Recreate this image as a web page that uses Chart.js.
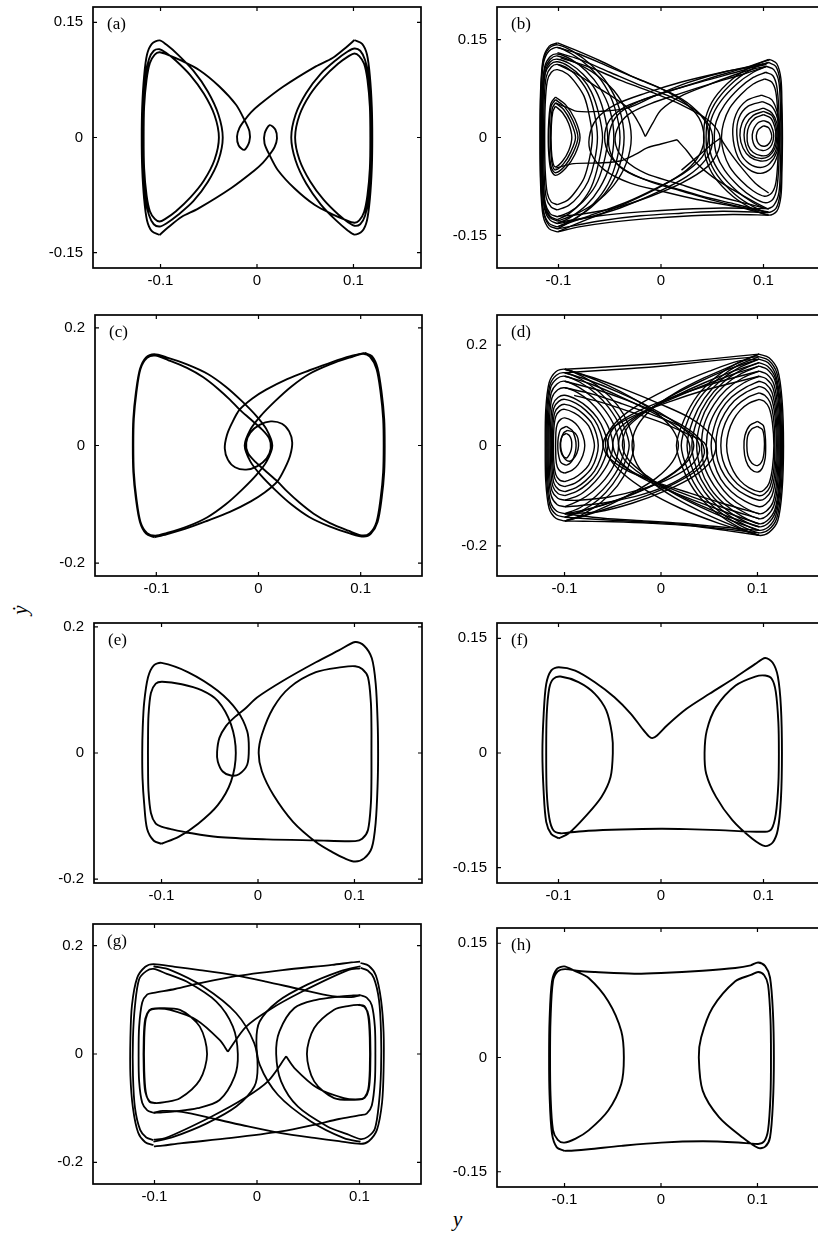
<!DOCTYPE html>
<html>
<head>
<meta charset="utf-8">
<script src="https://cdn.jsdelivr.net/npm/chart.js@4.4.1/dist/chart.umd.min.js"></script>
<style>
  html, body { margin: 0; padding: 0; background: #fff; width: 818px; height: 1238px; overflow: hidden; position: relative; }
  canvas { position: absolute; }
  .axlab { position: absolute; font-family: "Liberation Serif", "DejaVu Serif", serif; font-style: italic; font-size: 21px; color: #000; }
</style>
</head>
<body>
<div class="axlab" style="left:6px;top:597px;width:28px;height:26px;line-height:26px;text-align:center;transform:rotate(-90deg);">ẏ</div>
<div class="axlab" style="left:453px;top:1207px;">y</div>
<script>
// ---------- tick values and labels ----------
const xTickValues = [-0.1, 0, 0.1];
const xTickLabels = ['-0.1', '0', '0.1'];
const yTicks15 = [-0.15, 0, 0.15];
const yLabels15 = ['-0.15', '0', '0.15'];
const yTicks20 = [-0.2, 0, 0.2];
const yLabels20 = ['-0.2', '0', '0.2'];

// ---------- (a) period orbit: left half then right half ----------
const orbitA1 = [[-0.101,-0.127],[-0.109,-0.122],[-0.114,-0.108],[-0.117,-0.08],[-0.119,-0.04],[-0.1195,0],[-0.119,0.04],[-0.117,0.08],[-0.114,0.108],[-0.109,0.122],[-0.101,0.1265],
[-0.094,0.121],[-0.082,0.108],[-0.066,0.087],[-0.051,0.06],[-0.04,0.03],[-0.0355,0],[-0.04,-0.03],[-0.051,-0.058],[-0.066,-0.083],[-0.082,-0.101],[-0.094,-0.112],[-0.101,-0.116],
[-0.107,-0.113],[-0.112,-0.101],[-0.116,-0.078],[-0.118,-0.04],[-0.1185,0],[-0.118,0.04],[-0.116,0.078],[-0.112,0.102],[-0.107,0.113],[-0.101,0.115],
[-0.095,0.111],[-0.084,0.1],[-0.069,0.081],[-0.055,0.057],[-0.044,0.029],[-0.0395,0],[-0.044,-0.029],[-0.055,-0.056],[-0.069,-0.078],[-0.084,-0.096],[-0.095,-0.106],[-0.101,-0.1095],
[-0.106,-0.106],[-0.111,-0.096],[-0.1145,-0.075],[-0.117,-0.04],[-0.1175,0],[-0.117,0.04],[-0.1145,0.075],[-0.111,0.097],[-0.106,0.108],[-0.101,0.111],
[-0.091,0.107],[-0.08,0.101],[-0.06,0.088],[-0.039,0.0665],[-0.0217,0.0426],[-0.0131,0.023],[-0.0078,0.0078],[-0.008,-0.0055],[-0.0131,-0.0161],[-0.019,-0.0104],[-0.0207,0.0013],[-0.0183,0.0122],[-0.0131,0.0222],[-0.006,0.033],[0.0024,0.0426],[0.0266,0.0657],[0.061,0.0926],[0.0783,0.1035],[0.092,0.117],[0.101,0.127]];
const orbitA2 = [[0.101,0.127],[0.109,0.122],[0.114,0.108],[0.117,0.08],[0.119,0.04],[0.1195,0],[0.119,-0.04],[0.117,-0.08],[0.114,-0.108],[0.109,-0.122],[0.101,-0.1265],
[0.094,-0.121],[0.082,-0.108],[0.066,-0.087],[0.051,-0.06],[0.04,-0.03],[0.0355,0],[0.04,0.03],[0.051,0.058],[0.066,0.083],[0.082,0.101],[0.094,0.112],[0.101,0.116],
[0.107,0.113],[0.112,0.101],[0.116,0.078],[0.118,0.04],[0.1185,0],[0.118,-0.04],[0.116,-0.078],[0.112,-0.102],[0.107,-0.113],[0.101,-0.115],
[0.095,-0.111],[0.084,-0.1],[0.069,-0.081],[0.055,-0.057],[0.044,-0.029],[0.0395,0],[0.044,0.029],[0.055,0.056],[0.069,0.078],[0.084,0.096],[0.095,0.106],[0.101,0.1095],
[0.106,0.106],[0.111,0.096],[0.1145,0.075],[0.117,0.04],[0.1175,0],[0.117,-0.04],[0.1145,-0.075],[0.111,-0.097],[0.106,-0.108],[0.101,-0.111],
[0.091,-0.107],[0.08,-0.101],[0.06,-0.088],[0.039,-0.0665],[0.0217,-0.0426],[0.0131,-0.023],[0.0078,-0.0078],[0.008,0.0055],[0.0131,0.0161],[0.019,0.0104],[0.0207,-0.0013],[0.0183,-0.0122],[0.0131,-0.0222],[0.006,-0.033],[-0.0024,-0.0426],[-0.0266,-0.0657],[-0.061,-0.0926],[-0.0783,-0.1035],[-0.092,-0.117],[-0.101,-0.127]];

// ---------- (b) chaotic attractor: left lobe loops ----------
const bL1 = [[-0.101,-0.14],[-0.109,-0.135],[-0.1145,-0.115],[-0.117,-0.07],[-0.1175,0],[-0.117,0.07],[-0.1145,0.115],[-0.109,0.133],[-0.101,0.138],[-0.087,0.128],[-0.07,0.108],[-0.055,0.08],[-0.045,0.045],[-0.04,0],[-0.045,-0.045],[-0.055,-0.08],[-0.07,-0.108],[-0.087,-0.128],[-0.101,-0.14]];
const bL2 = [[-0.101,-0.132],[-0.108,-0.127],[-0.1135,-0.11],[-0.116,-0.065],[-0.1165,0],[-0.116,0.065],[-0.1135,0.108],[-0.108,0.124],[-0.101,0.128],[-0.088,0.12],[-0.073,0.102],[-0.06,0.077],[-0.05,0.043],[-0.046,0],[-0.05,-0.043],[-0.06,-0.078],[-0.073,-0.104],[-0.088,-0.122],[-0.101,-0.132]];
const bL3 = [[-0.101,-0.1215],[-0.108,-0.117],[-0.113,-0.1],[-0.115,-0.06],[-0.1155,0],[-0.115,0.06],[-0.113,0.1],[-0.108,0.116],[-0.101,0.12],[-0.089,0.113],[-0.076,0.097],[-0.064,0.073],[-0.056,0.04],[-0.052,0],[-0.056,-0.04],[-0.064,-0.074],[-0.076,-0.098],[-0.089,-0.114],[-0.101,-0.1215]];
const bL4 = [[-0.101,-0.111],[-0.107,-0.107],[-0.112,-0.092],[-0.114,-0.055],[-0.1145,0],[-0.114,0.055],[-0.112,0.093],[-0.107,0.108],[-0.101,0.112],[-0.09,0.105],[-0.08,0.09],[-0.071,0.068],[-0.065,0.037],[-0.062,0],[-0.065,-0.037],[-0.071,-0.067],[-0.08,-0.089],[-0.09,-0.104],[-0.101,-0.111]];
const bL5 = [[-0.101,-0.103],[-0.107,-0.099],[-0.111,-0.085],[-0.113,-0.05],[-0.1135,0],[-0.113,0.05],[-0.111,0.086],[-0.107,0.1],[-0.101,0.104],[-0.091,0.097],[-0.083,0.083],[-0.075,0.063],[-0.07,0.034],[-0.067,0],[-0.07,-0.034],[-0.075,-0.062],[-0.083,-0.082],[-0.091,-0.096],[-0.101,-0.103]];
const bL6 = [[-0.103,0.053],[-0.106,0.045],[-0.1075,0.02],[-0.108,0],[-0.1075,-0.02],[-0.106,-0.042],[-0.103,-0.0497],[-0.095,-0.04],[-0.088,-0.022],[-0.0834,0],[-0.088,0.024],[-0.095,0.043],[-0.103,0.053]];
const bL7 = [[-0.103,0.058],[-0.107,0.049],[-0.109,0.022],[-0.1095,0],[-0.109,-0.022],[-0.107,-0.046],[-0.103,-0.054],[-0.094,-0.044],[-0.086,-0.024],[-0.081,0],[-0.086,0.026],[-0.094,0.047],[-0.103,0.058]];
const bL8 = [[-0.103,0.048],[-0.1055,0.04],[-0.107,0.018],[-0.107,-0.018],[-0.1055,-0.038],[-0.103,-0.045],[-0.096,-0.036],[-0.09,-0.02],[-0.087,0],[-0.09,0.021],[-0.096,0.038],[-0.103,0.048]];
const bL9 = [[-0.101,-0.1446],[-0.109,-0.14],[-0.115,-0.12],[-0.1175,-0.07],[-0.118,0],[-0.1175,0.07],[-0.115,0.12],[-0.109,0.14],[-0.101,0.145]];
const bL10 = [[-0.101,-0.137],[-0.109,-0.132],[-0.1148,-0.112],[-0.1172,-0.07],[-0.1178,0],[-0.1172,0.07],[-0.1148,0.118],[-0.109,0.137],[-0.101,0.142],[-0.086,0.132],[-0.068,0.111],[-0.052,0.082],[-0.041,0.046],[-0.036,0],[-0.041,-0.046],[-0.052,-0.08],[-0.068,-0.107],[-0.086,-0.126],[-0.101,-0.137]];
const bL11 = [[-0.101,-0.126],[-0.108,-0.121],[-0.113,-0.104],[-0.1152,-0.06],[-0.1158,0],[-0.1152,0.06],[-0.113,0.098],[-0.108,0.112],[-0.101,0.116],[-0.09,0.109],[-0.078,0.093],[-0.068,0.07],[-0.061,0.038],[-0.057,0],[-0.061,-0.04],[-0.068,-0.076],[-0.078,-0.1],[-0.09,-0.117],[-0.101,-0.126]];
const bL12 = [[-0.101,-0.128],[-0.108,-0.123],[-0.1138,-0.105],[-0.1162,-0.06],[-0.1168,0],[-0.1162,0.06],[-0.1138,0.103],[-0.108,0.12],[-0.101,0.125],[-0.084,0.115],[-0.064,0.097],[-0.046,0.072],[-0.034,0.04],[-0.029,0],[-0.034,-0.04],[-0.046,-0.073],[-0.064,-0.1],[-0.084,-0.118],[-0.101,-0.128]];
const bL13 = [[-0.103,0.062],[-0.1075,0.052],[-0.1095,0.025],[-0.11,0],[-0.1095,-0.025],[-0.1075,-0.049],[-0.103,-0.058],[-0.093,-0.047],[-0.084,-0.026],[-0.079,0],[-0.084,0.028],[-0.093,0.05],[-0.103,0.062]];
// (b) right lobe loops
const bR1 = [[0.1065,0.1195],[0.113,0.113],[0.117,0.09],[0.118,0.05],[0.1185,0],[0.118,-0.05],[0.117,-0.09],[0.113,-0.113],[0.105,-0.119],[0.09,-0.11],[0.07,-0.09],[0.052,-0.06],[0.0435,-0.03],[0.0416,0],[0.0435,0.03],[0.052,0.06],[0.07,0.09],[0.09,0.11],[0.1065,0.1195]];
const bR2 = [[0.103,0.109],[0.11,0.104],[0.115,0.085],[0.1165,0.045],[0.117,0],[0.1165,-0.045],[0.115,-0.085],[0.11,-0.104],[0.103,-0.109],[0.09,-0.1],[0.074,-0.082],[0.058,-0.055],[0.049,-0.028],[0.047,0],[0.049,0.028],[0.058,0.055],[0.074,0.082],[0.09,0.1],[0.103,0.109]];
const bR3 = [[0.102,0.1],[0.109,0.095],[0.113,0.078],[0.115,0.04],[0.1155,0],[0.115,-0.04],[0.113,-0.078],[0.109,-0.095],[0.102,-0.1],[0.09,-0.092],[0.076,-0.075],[0.062,-0.05],[0.054,-0.025],[0.052,0],[0.054,0.025],[0.062,0.05],[0.076,0.075],[0.09,0.092],[0.102,0.1]];
const bR4 = [[0.101,0.09],[0.108,0.085],[0.112,0.07],[0.114,0.035],[0.1145,0],[0.114,-0.035],[0.112,-0.07],[0.108,-0.085],[0.101,-0.09],[0.09,-0.082],[0.078,-0.066],[0.067,-0.045],[0.061,-0.022],[0.059,0],[0.061,0.022],[0.067,0.045],[0.078,0.066],[0.09,0.082],[0.101,0.09]];
const bR5 = [[0.098,0.065],[0.108,0.058],[0.114,0.035],[0.116,0.005],[0.114,-0.025],[0.107,-0.048],[0.097,-0.055],[0.085,-0.048],[0.075,-0.03],[0.07,0.005],[0.073,0.035],[0.083,0.056],[0.098,0.065]];
const bR6 = [[0.1,0.045],[0.108,0.038],[0.113,0.022],[0.114,0.002],[0.112,-0.02],[0.106,-0.033],[0.097,-0.036],[0.087,-0.03],[0.08,-0.016],[0.077,0.003],[0.079,0.022],[0.086,0.037],[0.1,0.045]];
const bR7 = [[0.1,0.035],[0.107,0.03],[0.111,0.016],[0.112,0.002],[0.11,-0.015],[0.105,-0.026],[0.098,-0.028],[0.09,-0.023],[0.085,-0.012],[0.084,0.004],[0.086,0.018],[0.092,0.03],[0.1,0.035]];
const bR8 = [[0.1,0.026],[0.106,0.022],[0.109,0.012],[0.11,0.002],[0.108,-0.011],[0.104,-0.018],[0.099,-0.02],[0.093,-0.016],[0.09,-0.008],[0.089,0.004],[0.091,0.015],[0.095,0.023],[0.1,0.026]];
const bR9 = [[0.1,0.018],[0.105,0.015],[0.1075,0.007],[0.108,0],[0.106,-0.008],[0.102,-0.013],[0.097,-0.012],[0.094,-0.006],[0.093,0.003],[0.095,0.012],[0.1,0.018]];
const bR10 = [[0.105,0.115],[0.112,0.109],[0.116,0.088],[0.1175,0.048],[0.118,0],[0.1175,-0.048],[0.116,-0.088],[0.112,-0.109],[0.104,-0.115],[0.09,-0.106],[0.072,-0.087],[0.055,-0.058],[0.046,-0.029],[0.044,0],[0.046,0.029],[0.055,0.058],[0.072,0.087],[0.09,0.106],[0.105,0.115]];
const bR11 = [[0.099,0.055],[0.108,0.048],[0.1135,0.03],[0.115,0.004],[0.113,-0.022],[0.106,-0.04],[0.097,-0.046],[0.086,-0.04],[0.078,-0.025],[0.074,0.004],[0.076,0.03],[0.085,0.048],[0.099,0.055]];
const bR12 = [[0.1,0.04],[0.108,0.034],[0.112,0.019],[0.113,0.002],[0.111,-0.017],[0.105,-0.029],[0.097,-0.032],[0.088,-0.027],[0.083,-0.014],[0.081,0.004],[0.083,0.02],[0.09,0.034],[0.1,0.04]];
// (b) transits between the lobes
const bA1 = [[-0.101,0.145],[-0.085,0.135],[-0.06,0.118],[-0.03,0.095],[0,0.075],[0.022,0.055],[0.037,0.03],[0.042,0],[0.038,-0.025],[0.025,-0.05],[0,-0.075],[-0.03,-0.098],[-0.06,-0.118],[-0.085,-0.134],[-0.101,-0.1446]];
const bA2 = [[-0.101,0.13],[-0.08,0.12],[-0.05,0.1],[-0.02,0.08],[0.01,0.062],[0.035,0.04],[0.048,0.015],[0.05,-0.01],[0.043,-0.035],[0.025,-0.06],[-0.005,-0.085],[-0.04,-0.108],[-0.075,-0.124],[-0.101,-0.132]];
const bA3 = [[-0.098,0.122],[-0.07,0.108],[-0.04,0.088],[-0.01,0.07],[0.02,0.05],[0.045,0.028],[0.057,0.005],[0.056,-0.02],[0.045,-0.045],[0.02,-0.07],[-0.01,-0.09],[-0.045,-0.108],[-0.08,-0.118],[-0.101,-0.121]];
const bA4 = [[-0.101,0.138],[-0.08,0.128],[-0.05,0.108],[-0.02,0.088],[0.01,0.068],[0.03,0.048],[0.044,0.022],[0.046,-0.005],[0.04,-0.03],[0.022,-0.055],[-0.005,-0.078],[-0.035,-0.1],[-0.07,-0.12],[-0.101,-0.137]];
const bC1 = [[0.105,-0.119],[0.08,-0.108],[0.05,-0.096],[0.02,-0.082],[-0.01,-0.068],[-0.035,-0.05],[-0.05,-0.027],[-0.055,0],[-0.05,0.027],[-0.035,0.047],[-0.01,0.062],[0.02,0.077],[0.05,0.092],[0.08,0.106],[0.105,0.1195]];
const bC2 = [[0.103,-0.109],[0.075,-0.098],[0.045,-0.085],[0.015,-0.07],[-0.015,-0.055],[-0.035,-0.035],[-0.044,-0.012],[-0.043,0.012],[-0.032,0.035],[-0.01,0.052],[0.02,0.068],[0.05,0.083],[0.08,0.097],[0.103,0.109]];
const bC3 = [[0.105,-0.114],[0.07,-0.105],[0.035,-0.095],[0,-0.082],[-0.03,-0.07],[-0.055,-0.05],[-0.068,-0.025],[-0.07,0],[-0.063,0.028],[-0.045,0.05],[-0.015,0.068],[0.02,0.085],[0.06,0.1],[0.1,0.113]];
const bC4 = [[0.104,-0.115],[0.075,-0.103],[0.04,-0.09],[0.01,-0.076],[-0.02,-0.062],[-0.04,-0.045],[-0.05,-0.02],[-0.05,0.01],[-0.042,0.035],[-0.022,0.055],[0.01,0.072],[0.045,0.088],[0.08,0.103],[0.105,0.115]];
const bV1 = [[-0.101,0.112],[-0.085,0.1],[-0.065,0.08],[-0.045,0.06],[-0.03,0.042],[-0.021,0.02],[-0.0153,0.0015]];
const bV2 = [[-0.0153,0.0015],[-0.008,0.022],[0,0.042],[0.019,0.063],[0.045,0.08],[0.07,0.095],[0.09,0.105],[0.103,0.109]];
const bX2 = [[-0.103,0.053],[-0.09,0.045],[-0.0818,0.04],[-0.06,0.04],[-0.033,0.0451],[-0.0071,0.063],[0.0253,0.0836],[0.0643,0.1015],[0.09,0.108],[0.103,0.1118]];
const bP1 = [[-0.103,-0.047],[-0.085,-0.04],[-0.06,-0.039],[-0.04,-0.036],[-0.025,-0.026],[-0.0136,-0.016],[0,-0.01],[0.0156,-0.0035]];
const bP2 = [[0.0156,-0.0035],[0.025,-0.02],[0.035,-0.04],[0.05,-0.06],[0.07,-0.08],[0.09,-0.098],[0.105,-0.11]];
const bP3 = [[0.02,-0.05],[0.035,-0.03],[0.05,-0.01],[0.058,-0.001]];
const bP4 = [[0.058,-0.001],[0.066,-0.02],[0.078,-0.045],[0.092,-0.07],[0.105,-0.085]];
const bH1 = [[0.105,-0.119],[0.07,-0.118],[0.03,-0.12],[-0.01,-0.124],[-0.05,-0.13],[-0.08,-0.137],[-0.101,-0.1446]];
const bH2 = [[0.103,-0.109],[0.06,-0.108],[0.02,-0.11],[-0.02,-0.114],[-0.06,-0.12],[-0.101,-0.13]];
const bH3 = [[0.104,-0.115],[0.06,-0.113],[0.02,-0.116],[-0.02,-0.12],[-0.06,-0.128],[-0.101,-0.14]];

// ---------- (c) period orbit ----------
const orbitC1 = [[-0.102,-0.156],[-0.11,-0.15],[-0.116,-0.13],[-0.12,-0.09],[-0.1225,-0.045],[-0.123,0],[-0.1225,0.045],[-0.12,0.09],[-0.116,0.13],[-0.11,0.15],[-0.102,0.1555],
[-0.09,0.15],[-0.07,0.138],[-0.05,0.122],[-0.032,0.1],[-0.016,0.075],[-0.002,0.05],[0.008,0.027],[0.0135,0],[0.008,-0.027],[-0.002,-0.05],[-0.016,-0.075],[-0.032,-0.1],[-0.05,-0.122],[-0.07,-0.138],[-0.09,-0.149],[-0.101,-0.1535],
[-0.109,-0.149],[-0.1155,-0.13],[-0.1195,-0.09],[-0.122,-0.045],[-0.1225,0],[-0.122,0.045],[-0.1195,0.09],[-0.1155,0.13],[-0.109,0.149],[-0.101,0.153],
[-0.088,0.145],[-0.07,0.132],[-0.054,0.116],[-0.04,0.097],[-0.028,0.078],[-0.0185,0.061],[-0.008,0.045],[0.003,0.028],[0.0105,0.012],[0.012,-0.005],[0.008,-0.022],[-0.001,-0.035],[-0.012,-0.041],[-0.023,-0.037],[-0.03,-0.024],[-0.033,-0.005],[-0.031,0.017],[-0.026,0.038],[-0.0185,0.061],[-0.006,0.08],[0.0075,0.095],[0.028,0.113],[0.05,0.128],[0.072,0.142],[0.09,0.152],[0.104,0.1575]];
const orbitC2 = [[0.104,0.1575],[0.111,0.152],[0.1165,0.132],[0.1205,0.09],[0.123,0.045],[0.1235,0],[0.123,-0.045],[0.1205,-0.09],[0.1165,-0.13],[0.11,-0.15],[0.103,-0.155],
[0.09,-0.15],[0.07,-0.138],[0.05,-0.122],[0.032,-0.1],[0.016,-0.075],[0.002,-0.05],[-0.008,-0.027],[-0.0135,0],[-0.008,0.027],[0.002,0.05],[0.016,0.075],[0.032,0.1],[0.05,0.122],[0.07,0.138],[0.09,0.15],[0.102,0.156],
[0.109,0.151],[0.1155,0.13],[0.1195,0.09],[0.122,0.045],[0.1225,0],[0.122,-0.045],[0.1195,-0.09],[0.1155,-0.13],[0.109,-0.149],[0.101,-0.153],
[0.088,-0.145],[0.07,-0.132],[0.054,-0.116],[0.04,-0.097],[0.028,-0.078],[0.0185,-0.061],[0.008,-0.045],[-0.003,-0.028],[-0.0105,-0.012],[-0.012,0.005],[-0.008,0.022],[0.001,0.035],[0.012,0.041],[0.023,0.037],[0.03,0.024],[0.033,0.005],[0.031,-0.017],[0.026,-0.038],[0.0185,-0.061],[0.006,-0.08],[-0.0075,-0.095],[-0.028,-0.113],[-0.05,-0.128],[-0.072,-0.142],[-0.09,-0.151],[-0.102,-0.156]];

// ---------- (d) chaotic attractor ----------
const dL1 = [[-0.0997,-0.1505],[-0.109,-0.145],[-0.116,-0.125],[-0.1195,-0.07],[-0.12,0],[-0.1195,0.07],[-0.116,0.125],[-0.109,0.147],[-0.0997,0.152],[-0.082,0.138],[-0.062,0.113],[-0.045,0.08],[-0.034,0.043],[-0.028,0],[-0.034,-0.043],[-0.045,-0.08],[-0.062,-0.113],[-0.082,-0.138],[-0.0997,-0.1505]];
const dL2 = [[-0.0997,-0.136],[-0.108,-0.131],[-0.1145,-0.113],[-0.1175,-0.065],[-0.118,0],[-0.1175,0.065],[-0.1145,0.115],[-0.108,0.133],[-0.0997,0.138],[-0.084,0.126],[-0.068,0.104],[-0.054,0.075],[-0.043,0.04],[-0.038,0],[-0.043,-0.04],[-0.054,-0.074],[-0.068,-0.102],[-0.084,-0.124],[-0.0997,-0.136]];
const dL3 = [[-0.0997,-0.109],[-0.107,-0.105],[-0.113,-0.09],[-0.1155,-0.055],[-0.116,0],[-0.1155,0.055],[-0.113,0.095],[-0.107,0.111],[-0.0997,0.115],[-0.086,0.105],[-0.074,0.088],[-0.063,0.064],[-0.054,0.034],[-0.05,0],[-0.054,-0.032],[-0.063,-0.06],[-0.074,-0.083],[-0.086,-0.1],[-0.0997,-0.109]];
const dL4 = [[-0.0997,-0.092],[-0.106,-0.088],[-0.111,-0.075],[-0.113,-0.045],[-0.1135,0],[-0.113,0.045],[-0.111,0.075],[-0.106,0.088],[-0.0997,0.092],[-0.088,0.084],[-0.078,0.07],[-0.069,0.051],[-0.063,0.027],[-0.06,0],[-0.063,-0.027],[-0.069,-0.051],[-0.078,-0.07],[-0.088,-0.084],[-0.0997,-0.092]];
const dL5 = [[-0.0997,-0.072],[-0.105,-0.069],[-0.109,-0.058],[-0.111,-0.035],[-0.1115,0],[-0.111,0.035],[-0.109,0.058],[-0.105,0.069],[-0.0997,0.072],[-0.09,0.065],[-0.082,0.054],[-0.075,0.039],[-0.071,0.02],[-0.069,0],[-0.071,-0.02],[-0.075,-0.039],[-0.082,-0.054],[-0.09,-0.065],[-0.0997,-0.072]];
const dL6 = [[-0.0997,-0.055],[-0.104,-0.052],[-0.1075,-0.043],[-0.109,-0.025],[-0.109,0.025],[-0.1075,0.043],[-0.104,0.052],[-0.0997,0.055],[-0.092,0.049],[-0.086,0.038],[-0.081,0.02],[-0.079,0],[-0.081,-0.02],[-0.086,-0.038],[-0.092,-0.049],[-0.0997,-0.055]];
const dL7 = [[-0.098,0.024],[-0.102,0.02],[-0.104,0.01],[-0.1045,0],[-0.104,-0.01],[-0.102,-0.02],[-0.098,-0.025],[-0.095,-0.018],[-0.093,-0.008],[-0.0925,0.002],[-0.093,0.012],[-0.095,0.02],[-0.098,0.024]];
const dL8 = [[-0.098,0.038],[-0.104,0.032],[-0.1065,0.015],[-0.107,0],[-0.1065,-0.015],[-0.104,-0.033],[-0.098,-0.039],[-0.092,-0.03],[-0.089,-0.015],[-0.088,0],[-0.089,0.015],[-0.092,0.03],[-0.098,0.038]];
const dL9 = [[-0.097,0.03],[-0.101,0.025],[-0.1035,0.012],[-0.104,-0.002],[-0.1025,-0.016],[-0.099,-0.028],[-0.094,-0.031],[-0.089,-0.022],[-0.086,-0.008],[-0.0855,0.006],[-0.087,0.019],[-0.091,0.027],[-0.097,0.03]];
const dL10 = [[-0.0997,-0.143],[-0.1085,-0.138],[-0.1152,-0.119],[-0.1185,-0.068],[-0.119,0],[-0.1185,0.068],[-0.1152,0.12],[-0.1085,0.14],[-0.0997,0.145],[-0.083,0.132],[-0.065,0.108],[-0.05,0.077],[-0.039,0.041],[-0.033,0],[-0.039,-0.041],[-0.05,-0.077],[-0.065,-0.108],[-0.083,-0.131],[-0.0997,-0.143]];
const dL11 = [[-0.0997,-0.122],[-0.1075,-0.118],[-0.1138,-0.1],[-0.1165,-0.06],[-0.117,0],[-0.1165,0.06],[-0.1138,0.105],[-0.1075,0.123],[-0.0997,0.128],[-0.085,0.116],[-0.071,0.096],[-0.058,0.07],[-0.048,0.037],[-0.044,0],[-0.048,-0.036],[-0.058,-0.067],[-0.071,-0.092],[-0.085,-0.11],[-0.0997,-0.122]];
const dL12 = [[-0.0997,-0.1],[-0.1065,-0.096],[-0.112,-0.082],[-0.1142,-0.05],[-0.1148,0],[-0.1142,0.05],[-0.112,0.082],[-0.1065,0.096],[-0.0997,0.1],[-0.087,0.091],[-0.076,0.076],[-0.066,0.055],[-0.059,0.029],[-0.055,0],[-0.059,-0.029],[-0.066,-0.055],[-0.076,-0.076],[-0.087,-0.091],[-0.0997,-0.1]];
const dL13 = [[-0.0997,-0.082],[-0.1055,-0.078],[-0.11,-0.066],[-0.112,-0.04],[-0.1125,0],[-0.112,0.04],[-0.11,0.066],[-0.1055,0.078],[-0.0997,0.082],[-0.089,0.075],[-0.08,0.062],[-0.072,0.045],[-0.067,0.023],[-0.065,0],[-0.067,-0.023],[-0.072,-0.045],[-0.08,-0.062],[-0.089,-0.075],[-0.0997,-0.082]];
const dR1 = [[0.1017,0.182],[0.112,0.175],[0.121,0.15],[0.1255,0.09],[0.127,0],[0.1255,-0.09],[0.121,-0.15],[0.112,-0.173],[0.1017,-0.179],[0.08,-0.162],[0.058,-0.135],[0.038,-0.098],[0.024,-0.052],[0.016,0],[0.024,0.052],[0.038,0.1],[0.058,0.138],[0.08,0.165],[0.1017,0.182]];
const dR2 = [[0.1017,0.172],[0.111,0.165],[0.119,0.14],[0.1235,0.085],[0.125,0],[0.1235,-0.085],[0.119,-0.14],[0.111,-0.163],[0.1017,-0.169],[0.082,-0.153],[0.062,-0.127],[0.045,-0.092],[0.033,-0.049],[0.027,0],[0.033,0.05],[0.045,0.094],[0.062,0.13],[0.082,0.156],[0.1017,0.172]];
const dR3 = [[0.1017,0.158],[0.11,0.152],[0.118,0.13],[0.122,0.08],[0.1235,0],[0.122,-0.08],[0.118,-0.128],[0.11,-0.15],[0.1017,-0.156],[0.084,-0.141],[0.066,-0.117],[0.051,-0.085],[0.041,-0.045],[0.037,0],[0.041,0.046],[0.051,0.087],[0.066,0.12],[0.084,0.144],[0.1017,0.158]];
const dR4 = [[0.1017,0.138],[0.109,0.133],[0.116,0.115],[0.12,0.07],[0.1215,0],[0.12,-0.07],[0.116,-0.113],[0.109,-0.131],[0.1017,-0.136],[0.086,-0.123],[0.071,-0.102],[0.059,-0.074],[0.05,-0.039],[0.047,0],[0.05,0.04],[0.059,0.076],[0.071,0.104],[0.086,0.125],[0.1017,0.138]];
const dR5 = [[0.1017,0.118],[0.108,0.113],[0.114,0.097],[0.118,0.06],[0.1195,0],[0.118,-0.055],[0.114,-0.09],[0.108,-0.105],[0.1017,-0.109],[0.088,-0.099],[0.076,-0.083],[0.066,-0.06],[0.059,-0.031],[0.057,0],[0.059,0.033],[0.066,0.064],[0.076,0.089],[0.088,0.106],[0.1017,0.118]];
const dR6 = [[0.1017,0.092],[0.107,0.088],[0.112,0.075],[0.1155,0.045],[0.117,0],[0.1155,-0.045],[0.112,-0.075],[0.107,-0.088],[0.1017,-0.092],[0.091,-0.084],[0.082,-0.07],[0.075,-0.051],[0.07,-0.027],[0.068,0],[0.07,0.027],[0.075,0.051],[0.082,0.07],[0.091,0.084],[0.1017,0.092]];
const dR7 = [[0.1,0.048],[0.106,0.04],[0.108,0.02],[0.1085,0],[0.108,-0.025],[0.105,-0.045],[0.1,-0.053],[0.093,-0.047],[0.088,-0.03],[0.086,-0.005],[0.087,0.02],[0.092,0.04],[0.1,0.048]];
const dR8 = [[0.1,0.038],[0.105,0.032],[0.107,0.015],[0.107,-0.01],[0.105,-0.03],[0.1,-0.04],[0.094,-0.035],[0.09,-0.02],[0.089,0],[0.09,0.02],[0.094,0.033],[0.1,0.038]];
const dR9 = [[0.1017,0.177],[0.1115,0.17],[0.12,0.145],[0.1245,0.088],[0.126,0],[0.1245,-0.088],[0.12,-0.145],[0.1115,-0.168],[0.1017,-0.174],[0.081,-0.158],[0.06,-0.131],[0.041,-0.095],[0.028,-0.05],[0.021,0],[0.028,0.051],[0.041,0.097],[0.06,0.134],[0.081,0.161],[0.1017,0.177]];
const dR10 = [[0.1017,0.165],[0.1105,0.158],[0.1185,0.135],[0.1228,0.082],[0.124,0],[0.1228,-0.082],[0.1185,-0.133],[0.1105,-0.156],[0.1017,-0.162],[0.083,-0.147],[0.064,-0.122],[0.048,-0.088],[0.037,-0.047],[0.032,0],[0.037,0.048],[0.048,0.09],[0.064,0.125],[0.083,0.15],[0.1017,0.165]];
const dR11 = [[0.1017,0.148],[0.1098,0.142],[0.117,0.122],[0.121,0.075],[0.1225,0],[0.121,-0.075],[0.117,-0.12],[0.1098,-0.14],[0.1017,-0.146],[0.085,-0.132],[0.068,-0.11],[0.055,-0.08],[0.045,-0.042],[0.042,0],[0.045,0.043],[0.055,0.082],[0.068,0.112],[0.085,0.135],[0.1017,0.148]];
const dR12 = [[0.1017,0.128],[0.1085,0.123],[0.115,0.106],[0.119,0.065],[0.1205,0],[0.119,-0.062],[0.115,-0.1],[0.1085,-0.117],[0.1017,-0.122],[0.087,-0.111],[0.073,-0.092],[0.062,-0.067],[0.055,-0.035],[0.052,0],[0.055,0.036],[0.062,0.07],[0.073,0.096],[0.087,0.115],[0.1017,0.128]];
const dR13 = [[0.1017,0.105],[0.1075,0.1],[0.113,0.086],[0.1168,0.052],[0.118,0],[0.1168,-0.05],[0.113,-0.082],[0.1075,-0.096],[0.1017,-0.1],[0.09,-0.091],[0.079,-0.076],[0.07,-0.055],[0.064,-0.029],[0.062,0],[0.064,0.03],[0.07,0.058],[0.079,0.08],[0.09,0.096],[0.1017,0.105]];
const dA1 = [[-0.0997,0.152],[-0.08,0.14],[-0.055,0.12],[-0.03,0.095],[-0.005,0.065],[0.012,0.032],[0.018,0],[0.012,-0.032],[-0.005,-0.065],[-0.03,-0.095],[-0.055,-0.12],[-0.08,-0.14],[-0.0997,-0.1505]];
const dA2 = [[-0.0997,0.138],[-0.075,0.124],[-0.045,0.1],[-0.015,0.072],[0.01,0.045],[0.026,0.018],[0.03,-0.01],[0.022,-0.04],[0,-0.07],[-0.03,-0.097],[-0.06,-0.118],[-0.085,-0.131],[-0.0997,-0.136]];
const dA3 = [[-0.0997,0.115],[-0.07,0.102],[-0.04,0.083],[-0.01,0.062],[0.018,0.04],[0.036,0.015],[0.04,-0.01],[0.032,-0.038],[0.01,-0.065],[-0.02,-0.087],[-0.055,-0.103],[-0.085,-0.109],[-0.0997,-0.109]];
const dA4 = [[-0.09,0.1],[-0.06,0.085],[-0.03,0.066],[0,0.046],[0.025,0.025],[0.045,0.005],[0.048,-0.02],[0.038,-0.048],[0.015,-0.075],[-0.015,-0.1],[-0.05,-0.122],[-0.08,-0.14],[-0.0997,-0.1505]];
const dA5 = [[-0.0997,0.152],[-0.07,0.135],[-0.035,0.11],[0,0.082],[0.03,0.055],[0.05,0.025],[0.057,0],[0.052,-0.03],[0.035,-0.06],[0.005,-0.09],[-0.03,-0.115],[-0.065,-0.132],[-0.0997,-0.136]];
const dA6 = [[-0.0997,0.145],[-0.075,0.13],[-0.045,0.107],[-0.015,0.08],[0.01,0.052],[0.028,0.025],[0.034,0],[0.028,-0.03],[0.008,-0.062],[-0.02,-0.09],[-0.05,-0.112],[-0.08,-0.13],[-0.0997,-0.143]];
const dA7 = [[-0.0997,0.128],[-0.068,0.112],[-0.035,0.09],[-0.005,0.066],[0.022,0.04],[0.04,0.013],[0.045,-0.015],[0.036,-0.045],[0.012,-0.075],[-0.02,-0.098],[-0.055,-0.113],[-0.085,-0.12],[-0.0997,-0.122]];
const dC1 = [[0.1017,-0.179],[0.075,-0.16],[0.045,-0.135],[0.015,-0.105],[-0.01,-0.072],[-0.025,-0.037],[-0.03,0],[-0.025,0.037],[-0.01,0.072],[0.015,0.105],[0.045,0.135],[0.075,0.16],[0.1017,0.182]];
const dC2 = [[0.1017,-0.169],[0.07,-0.147],[0.04,-0.122],[0.01,-0.092],[-0.015,-0.06],[-0.033,-0.03],[-0.04,0],[-0.035,0.035],[-0.015,0.068],[0.01,0.098],[0.04,0.127],[0.07,0.152],[0.1017,0.172]];
const dC3 = [[0.1017,-0.156],[0.07,-0.135],[0.035,-0.11],[0,-0.083],[-0.028,-0.055],[-0.045,-0.025],[-0.05,0.005],[-0.043,0.035],[-0.02,0.065],[0.01,0.092],[0.045,0.12],[0.075,0.142],[0.1017,0.158]];
const dC4 = [[0.1017,-0.136],[0.065,-0.116],[0.03,-0.095],[-0.005,-0.073],[-0.035,-0.05],[-0.055,-0.022],[-0.06,0.005],[-0.05,0.035],[-0.025,0.062],[0.01,0.088],[0.045,0.11],[0.075,0.125],[0.1017,0.138]];
const dC5 = [[0.1017,-0.179],[0.06,-0.155],[0.02,-0.125],[-0.015,-0.09],[-0.04,-0.055],[-0.055,-0.02],[-0.057,0.015],[-0.045,0.05],[-0.02,0.085],[0.015,0.12],[0.05,0.148],[0.08,0.168],[0.1017,0.172]];
const dC6 = [[0.1017,-0.162],[0.07,-0.142],[0.038,-0.117],[0.008,-0.088],[-0.02,-0.058],[-0.038,-0.028],[-0.044,0.003],[-0.038,0.035],[-0.018,0.066],[0.012,0.096],[0.045,0.125],[0.075,0.148],[0.1017,0.165]];
const dC7 = [[0.1017,-0.146],[0.068,-0.126],[0.033,-0.103],[0,-0.078],[-0.03,-0.052],[-0.05,-0.022],[-0.055,0.01],[-0.046,0.042],[-0.022,0.07],[0.01,0.095],[0.045,0.118],[0.075,0.135],[0.1017,0.148]];
const dT1 = [[-0.0997,0.152],[-0.07,0.155],[-0.03,0.16],[0.01,0.165],[0.05,0.172],[0.08,0.178],[0.1017,0.182]];
const dT2 = [[-0.0997,0.145],[-0.06,0.15],[-0.02,0.155],[0.02,0.162],[0.06,0.17],[0.1017,0.177]];
const dB1 = [[0.1017,-0.179],[0.07,-0.17],[0.03,-0.16],[-0.01,-0.155],[-0.05,-0.152],[-0.08,-0.151],[-0.0997,-0.1505]];
const dB2 = [[0.1017,-0.169],[0.06,-0.162],[0.02,-0.155],[-0.02,-0.15],[-0.06,-0.145],[-0.0997,-0.136]];
const dB3 = [[0.1017,-0.174],[0.06,-0.165],[0.02,-0.157],[-0.02,-0.152],[-0.06,-0.148],[-0.0997,-0.143]];

// ---------- (e) period orbit ----------
const orbitE = [[-0.1,-0.1438],[-0.108,-0.139],[-0.115,-0.12],[-0.118,-0.08],[-0.1197,-0.04],[-0.12,0],[-0.1195,0.04],[-0.118,0.08],[-0.114,0.12],[-0.108,0.139],[-0.1,0.1428],
[-0.0722,0.1279],[-0.0417,0.0986],[-0.0214,0.0666],[-0.0112,0.0346],[-0.0095,0.008],[-0.0112,-0.0186],[-0.0197,-0.0336],[-0.0281,-0.0357],[-0.0366,-0.0293],[-0.0417,-0.0133],[-0.0424,0.002],[-0.04,0.024],[-0.0332,0.0426],[-0.0247,0.056],[-0.012,0.072],[-0.001,0.088],[0.026,0.1145],[0.06,0.1438],[0.0837,0.1625],[0.1007,0.1758],
[0.11,0.17],[0.118,0.15],[0.122,0.11],[0.124,0.05],[0.1245,0],[0.124,-0.05],[0.122,-0.11],[0.118,-0.15],[0.11,-0.167],[0.1007,-0.172],
[0.09,-0.167],[0.077,-0.157],[0.06,-0.141],[0.0363,-0.109],[0.016,-0.0666],[0.004,-0.029],[0.0007,0],[0.004,0.029],[0.016,0.072],[0.033,0.104],[0.06,0.128],[0.087,0.136],[0.1007,0.1375],
[0.108,0.133],[0.114,0.12],[0.117,0.08],[0.1176,0.04],[0.1176,0],[0.1176,-0.04],[0.117,-0.08],[0.114,-0.122],[0.108,-0.136],[0.1007,-0.1396],
[0.06,-0.1385],[0.0092,-0.1369],[-0.0417,-0.1332],[-0.0722,-0.1263],[-0.089,-0.121],[-0.0993,-0.117],
[-0.106,-0.112],[-0.111,-0.095],[-0.1135,-0.06],[-0.114,-0.02],[-0.114,0.02],[-0.1135,0.06],[-0.111,0.095],[-0.106,0.11],[-0.0993,0.113],
[-0.079,0.109],[-0.0586,0.0996],[-0.0417,0.0826],[-0.028,0.0453],[-0.023,0],[-0.028,-0.0453],[-0.0417,-0.0826],[-0.062,-0.112],[-0.0824,-0.133],[-0.1,-0.1438]];

// ---------- (f) period orbit ----------
const orbitF = [[-0.0997,-0.1117],[-0.107,-0.106],[-0.112,-0.09],[-0.1145,-0.05],[-0.1157,0],[-0.1145,0.05],[-0.112,0.09],[-0.107,0.108],[-0.0997,0.1122],
[-0.0837,0.1078],[-0.0645,0.0926],[-0.0454,0.073],[-0.0294,0.0513],[-0.0182,0.0317],[-0.0118,0.0217],[-0.0086,0.0195],[-0.0038,0.023],[0.0058,0.036],[0.0249,0.0578],[0.0473,0.0774],[0.0728,0.0991],[0.092,0.1165],[0.1016,0.1243],
[0.109,0.118],[0.114,0.1],[0.117,0.06],[0.118,0],[0.117,-0.06],[0.114,-0.1],[0.109,-0.117],[0.1016,-0.1217],
[0.0888,-0.1117],[0.0696,-0.0878],[0.0537,-0.0574],[0.0441,-0.027],[0.0425,0],[0.0447,0.0296],[0.0537,0.06],[0.0728,0.0883],[0.092,0.1],[0.1016,0.1013],
[0.108,0.097],[0.112,0.08],[0.1145,0.04],[0.115,0],[0.1145,-0.04],[0.112,-0.08],[0.108,-0.099],[0.1016,-0.103],
[0.0569,-0.1009],[0.0249,-0.0996],[0,-0.0991],[-0.039,-0.1],[-0.0709,-0.1017],[-0.09,-0.104],[-0.098,-0.105],
[-0.105,-0.101],[-0.109,-0.085],[-0.1115,-0.05],[-0.112,0],[-0.1115,0.05],[-0.109,0.085],[-0.105,0.097],[-0.098,0.1],
[-0.0805,0.0926],[-0.0645,0.0774],[-0.0534,0.0557],[-0.0479,0.0252],[-0.047,0],[-0.0492,-0.0313],[-0.0581,-0.0574],[-0.0741,-0.0835],[-0.09,-0.105],[-0.0997,-0.1117]];

// ---------- (g) period orbit, drawn as its branches ----------
const gS1 = [[-0.101,-0.168],[-0.109,-0.163],[-0.116,-0.145],[-0.121,-0.1],[-0.1235,-0.04],[-0.1235,0.03],[-0.122,0.09],[-0.117,0.14],[-0.109,0.161],[-0.101,0.166],[-0.08,0.161],[-0.0558,0.155],[-0.0235,0.146],[0.0087,0.1337],[0.041,0.12],[0.0732,0.107],[0.092,0.105],[0.101,0.1085]];
const gS2 = [[-0.101,-0.159],[-0.108,-0.154],[-0.114,-0.14],[-0.119,-0.1],[-0.121,-0.04],[-0.121,0.03],[-0.119,0.09],[-0.115,0.138],[-0.108,0.153],[-0.101,0.157],[-0.088,0.148],[-0.0687,0.1337],[-0.0397,0.0968],[-0.0235,0.0505],[-0.0187,0],[-0.0219,-0.0419],[-0.0365,-0.085],[-0.058,-0.1],[-0.08,-0.106],[-0.094,-0.108],[-0.101,-0.1085]];
const gS3 = [[-0.101,-0.1085],[-0.107,-0.104],[-0.112,-0.09],[-0.115,-0.05],[-0.1155,0],[-0.115,0.05],[-0.112,0.095],[-0.107,0.11],[-0.101,0.113],[-0.08,0.12],[-0.0558,0.1307],[-0.0235,0.143],[0.0248,0.155],[0.0732,0.1646],[0.092,0.169],[0.1006,0.1707]];
const gS4 = [[-0.0994,-0.091],[-0.105,-0.087],[-0.109,-0.07],[-0.1105,-0.03],[-0.1105,0.03],[-0.109,0.065],[-0.105,0.081],[-0.0994,0.0844],[-0.0752,0.0814],[-0.0558,0.0505],[-0.0487,0],[-0.0558,-0.048],[-0.0752,-0.0819],[-0.09,-0.089],[-0.0994,-0.0905],[-0.105,-0.088],[-0.1085,-0.07],[-0.11,-0.03],[-0.11,0.03],[-0.1085,0.065],[-0.105,0.08],[-0.0994,0.0835],[-0.0848,0.0814],[-0.059,0.0629],[-0.0365,0.0259],[-0.0284,0.0043]];
const gS4b = [[-0.0284,0.0043],[-0.0106,0.0505],[0.0119,0.0814],[0.0442,0.1153],[0.0894,0.1553],[0.1006,0.158]];
const gS5 = [[-0.101,0.162],[-0.0848,0.1553],[-0.0526,0.1245],[-0.0203,0.0752],[-0.0026,0.0197],[0.0006,-0.0234],[-0.0026,-0.06],[-0.0203,-0.097],[-0.049,-0.128],[-0.0816,-0.153],[-0.101,-0.162]];
const gM1 = [[0.101,0.168],[0.109,0.163],[0.116,0.145],[0.121,0.1],[0.1235,0.04],[0.1235,-0.03],[0.122,-0.09],[0.117,-0.14],[0.109,-0.161],[0.101,-0.166],[0.08,-0.161],[0.0558,-0.155],[0.0235,-0.146],[-0.0087,-0.1337],[-0.041,-0.12],[-0.0732,-0.107],[-0.092,-0.105],[-0.101,-0.1085]];
const gM2 = [[0.101,0.159],[0.108,0.154],[0.114,0.14],[0.119,0.1],[0.121,0.04],[0.121,-0.03],[0.119,-0.09],[0.115,-0.138],[0.108,-0.153],[0.101,-0.157],[0.088,-0.148],[0.0687,-0.1337],[0.0397,-0.0968],[0.0235,-0.0505],[0.0187,0],[0.0219,0.0419],[0.0365,0.085],[0.058,0.1],[0.08,0.106],[0.094,0.108],[0.101,0.1085]];
const gM3 = [[0.101,0.1085],[0.107,0.104],[0.112,0.09],[0.115,0.05],[0.1155,0],[0.115,-0.05],[0.112,-0.095],[0.107,-0.11],[0.101,-0.113],[0.08,-0.12],[0.0558,-0.1307],[0.0235,-0.143],[-0.0248,-0.155],[-0.0732,-0.1646],[-0.092,-0.169],[-0.1006,-0.1707]];
const gM4 = [[0.0994,0.091],[0.105,0.087],[0.109,0.07],[0.1105,0.03],[0.1105,-0.03],[0.109,-0.065],[0.105,-0.081],[0.0994,-0.0844],[0.0752,-0.0814],[0.0558,-0.0505],[0.0487,0],[0.0558,0.048],[0.0752,0.0819],[0.09,0.089],[0.0994,0.0905],[0.105,0.088],[0.1085,0.07],[0.11,0.03],[0.11,-0.03],[0.1085,-0.065],[0.105,-0.08],[0.0994,-0.0835],[0.0848,-0.0814],[0.059,-0.0629],[0.0365,-0.0259],[0.0284,-0.0043]];
const gM4b = [[0.0284,-0.0043],[0.0106,-0.0505],[-0.0119,-0.0814],[-0.0442,-0.1153],[-0.0894,-0.1553],[-0.1006,-0.158]];
const gM5 = [[0.101,-0.162],[0.0848,-0.1553],[0.0526,-0.1245],[0.0203,-0.0752],[0.0026,-0.0197],[-0.0006,0.0234],[0.0026,0.06],[0.0203,0.097],[0.049,0.128],[0.0816,0.153],[0.101,0.162]];

// ---------- (h) period orbit ----------
const orbitH = [[-0.1003,-0.1226],[-0.108,-0.118],[-0.113,-0.1],[-0.1155,-0.05],[-0.116,0],[-0.1155,0.05],[-0.113,0.1],[-0.108,0.116],[-0.1003,0.1196],
[-0.09,0.114],[-0.075,0.1043],[-0.0547,0.0739],[-0.0412,0.0348],[-0.0385,0],[-0.0412,-0.0348],[-0.0547,-0.0696],[-0.075,-0.0957],[-0.0885,-0.1065],[-0.1003,-0.1117],
[-0.107,-0.108],[-0.112,-0.095],[-0.1145,-0.05],[-0.115,0],[-0.1145,0.05],[-0.112,0.1],[-0.107,0.113],[-0.0995,0.116],
[-0.085,0.1135],[-0.0682,0.1122],[-0.0277,0.11],[0,0.1109],[0.0432,0.1139],[0.077,0.1174],[0.093,0.121],[0.1007,0.1248],
[0.108,0.12],[0.113,0.105],[0.116,0.06],[0.117,0],[0.116,-0.06],[0.113,-0.105],[0.108,-0.117],[0.1007,-0.1187],
[0.0838,-0.1043],[0.0601,-0.0783],[0.0432,-0.0435],[0.0392,0],[0.0416,0.0261],[0.0534,0.0652],[0.077,0.1],[0.0939,0.1087],[0.1007,0.1122],
[0.107,0.108],[0.111,0.095],[0.1135,0.05],[0.114,0],[0.1135,-0.05],[0.111,-0.095],[0.107,-0.11],[0.1007,-0.1135],
[0.08,-0.1115],[0.0432,-0.11],[0,-0.1117],[-0.0412,-0.116],[-0.075,-0.1204],[-0.09,-0.122],[-0.1003,-0.1226]];

// ---------- panel layout ----------
const SERIF = '"Liberation Serif", "DejaVu Serif", serif';
const SANS = '"Liberation Sans", Arial, sans-serif';

const panels = [
  { tag: '(a)', left: 93, top: 7, w: 328, h: 261, xr: [-0.17, 0.17], yr: [-0.17, 0.17], yTicks: yTicks15, yLabels: yLabels15, lw: 1.9,
    curves: [orbitA1, orbitA2] },
  { tag: '(b)', left: 497, top: 7, w: 328, h: 261, xr: [-0.16, 0.16], yr: [-0.2, 0.2], yTicks: yTicks15, yLabels: yLabels15, lw: 1.4,
    curves: [bL1, bL2, bL3, bL4, bL5, bL6, bL7, bL8, bL9, bL10, bL11, bL12, bL13,
             bR1, bR2, bR3, bR4, bR5, bR6, bR7, bR8, bR9, bR10, bR11, bR12,
             bA1, bA2, bA3, bA4, bC1, bC2, bC3, bC4, bV1, bV2, bX2, bP1, bP2, bP3, bP4, bH1, bH2, bH3] },
  { tag: '(c)', left: 95, top: 315, w: 327, h: 261, xr: [-0.16, 0.16], yr: [-0.222, 0.222], yTicks: yTicks20, yLabels: yLabels20, lw: 1.9,
    curves: [orbitC1, orbitC2] },
  { tag: '(d)', left: 497, top: 315, w: 328, h: 261, xr: [-0.17, 0.17], yr: [-0.26, 0.26], yTicks: yTicks20, yLabels: yLabels20, lw: 1.4,
    curves: [dL1, dL2, dL3, dL4, dL5, dL6, dL7, dL8, dL9, dL10, dL11, dL12, dL13,
             dR1, dR2, dR3, dR4, dR5, dR6, dR7, dR8, dR9, dR10, dR11, dR12, dR13,
             dA1, dA2, dA3, dA4, dA5, dA6, dA7, dC1, dC2, dC3, dC4, dC5, dC6, dC7, dT1, dT2, dB1, dB2, dB3] },
  { tag: '(e)', left: 94, top: 623, w: 328, h: 260, xr: [-0.17, 0.17], yr: [-0.206, 0.206], yTicks: yTicks20, yLabels: yLabels20, lw: 1.9,
    curves: [orbitE] },
  { tag: '(f)', left: 497, top: 623, w: 328, h: 260, xr: [-0.16, 0.16], yr: [-0.17, 0.17], yTicks: yTicks15, yLabels: yLabels15, lw: 1.9,
    curves: [orbitF] },
  { tag: '(g)', left: 93, top: 924, w: 328, h: 260, xr: [-0.16, 0.16], yr: [-0.24, 0.24], yTicks: yTicks20, yLabels: yLabels20, lw: 1.8,
    curves: [gS1, gS2, gS3, gS4, gS4b, gS5, gM1, gM2, gM3, gM4, gM4b, gM5] },
  { tag: '(h)', left: 497, top: 928, w: 328, h: 259, xr: [-0.17, 0.17], yr: [-0.17, 0.17], yTicks: yTicks15, yLabels: yLabels15, lw: 1.9,
    curves: [orbitH] }
];

// frame box, inward tick marks on all four sides, and the panel tag
function boxPlugin(p) {
  return {
    id: 'box',
    afterDatasetsDraw(chart) {
      const ctx = chart.ctx, a = chart.chartArea;
      const xs = chart.scales.x, ys = chart.scales.y;
      ctx.save();
      ctx.strokeStyle = '#000';
      ctx.lineWidth = 1.7;
      ctx.strokeRect(a.left, a.top, a.right - a.left, a.bottom - a.top);
      ctx.lineWidth = 1.2;
      ctx.beginPath();
      xTickValues.forEach(v => {
        const px = xs.getPixelForValue(v);
        ctx.moveTo(px, a.bottom); ctx.lineTo(px, a.bottom - 4);
        ctx.moveTo(px, a.top); ctx.lineTo(px, a.top + 4);
      });
      p.yTicks.forEach(v => {
        const py = ys.getPixelForValue(v);
        ctx.moveTo(a.left, py); ctx.lineTo(a.left + 4, py);
        ctx.moveTo(a.right, py); ctx.lineTo(a.right - 4, py);
      });
      ctx.stroke();
      ctx.fillStyle = '#000';
      ctx.font = '17px ' + SERIF;
      ctx.textAlign = 'left';
      ctx.textBaseline = 'alphabetic';
      ctx.fillText(p.tag, a.left + 14, a.top + 22);
      ctx.restore();
    }
  };
}

const PADL = 62, PADT = 24, PADR = 4, PADB = 30;

panels.forEach(p => {
  const cv = document.createElement('canvas');
  const W = p.w + PADL + PADR, H = p.h + PADT + PADB;
  cv.width = W; cv.height = H;
  cv.style.left = (p.left - PADL) + 'px';
  cv.style.top = (p.top - PADT) + 'px';
  cv.style.width = W + 'px';
  cv.style.height = H + 'px';
  document.body.appendChild(cv);

  new Chart(cv, {
    type: 'scatter',
    data: {
      datasets: p.curves.map(c => ({
        data: c.map(q => ({ x: q[0], y: q[1] })),
        showLine: true,
        borderColor: '#000',
        borderWidth: p.lw,
        pointRadius: 0,
        pointHoverRadius: 0,
        tension: 0.3,
        fill: false
      }))
    },
    options: {
      responsive: false,
      animation: false,
      devicePixelRatio: 1,
      events: [],
      layout: { padding: { left: 0, top: PADT, right: PADR, bottom: 0 } },
      plugins: { legend: { display: false }, tooltip: { enabled: false } },
      scales: {
        x: {
          type: 'linear', position: 'bottom', min: p.xr[0], max: p.xr[1],
          grid: { display: false, drawTicks: false },
          border: { display: false },
          afterBuildTicks: s => { s.ticks = xTickValues.map(v => ({ value: v })); },
          afterFit: s => { s.height = PADB; },
          ticks: { color: '#000', font: { family: SANS, size: 15 }, padding: 4, maxRotation: 0, autoSkip: false,
                   callback: (v, i) => xTickLabels[i] }
        },
        y: {
          type: 'linear', position: 'left', min: p.yr[0], max: p.yr[1],
          grid: { display: false, drawTicks: false },
          border: { display: false },
          afterBuildTicks: s => { s.ticks = p.yTicks.map(v => ({ value: v })); },
          afterFit: s => { s.width = PADL; },
          ticks: { color: '#000', font: { family: SANS, size: 15 }, padding: 10, autoSkip: false,
                   callback: (v, i) => p.yLabels[i] }
        }
      }
    },
    plugins: [boxPlugin(p)]
  });
});
</script>
</body>
</html>
